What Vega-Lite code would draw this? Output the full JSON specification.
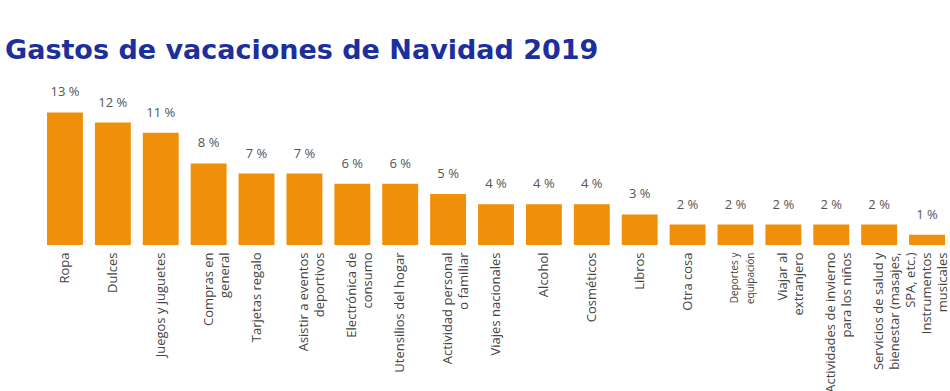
{
  "$schema": "https://vega.github.io/schema/vega-lite/v6.json",
  "width": 898,
  "height": 153,
  "autosize": {"type": "none"},
  "padding": {"left": 47, "top": 92, "right": 5, "bottom": 146},
  "background": "white",
  "title": {
    "text": "Gastos de vacaciones de Navidad 2019",
    "anchor": "start",
    "frame": "group",
    "orient": "top",
    "baseline": "alphabetic",
    "offset": 0,
    "dx": -42,
    "font": "DejaVu Sans",
    "fontSize": 27,
    "fontWeight": "bold",
    "color": "#1c2f9c"
  },
  "data": {
    "values": [
      {"cat": "Ropa", "pct": 13, "label": "13 %"},
      {"cat": "Dulces", "pct": 12, "label": "12 %"},
      {"cat": "Juegos y juguetes", "pct": 11, "label": "11 %"},
      {"cat": "Compras en|general", "pct": 8, "label": "8 %"},
      {"cat": "Tarjetas regalo", "pct": 7, "label": "7 %"},
      {"cat": "Asistir a eventos|deportivos", "pct": 7, "label": "7 %"},
      {"cat": "Electrónica de|consumo", "pct": 6, "label": "6 %"},
      {"cat": "Utensilios del hogar", "pct": 6, "label": "6 %"},
      {"cat": "Actividad personal|o familiar", "pct": 5, "label": "5 %"},
      {"cat": "Viajes nacionales", "pct": 4, "label": "4 %"},
      {"cat": "Alcohol", "pct": 4, "label": "4 %"},
      {"cat": "Cosméticos", "pct": 4, "label": "4 %"},
      {"cat": "Libros", "pct": 3, "label": "3 %"},
      {"cat": "Otra cosa", "pct": 2, "label": "2 %"},
      {"cat": "Deportes y|equipación", "pct": 2, "label": "2 %"},
      {"cat": "Viajar al|extranjero", "pct": 2, "label": "2 %"},
      {"cat": "Actividades de invierno|para los niños", "pct": 2, "label": "2 %"},
      {"cat": "Servicios de salud y|bienestar (masajes,|SPA, etc.)", "pct": 2, "label": "2 %"},
      {"cat": "Instrumentos|musicales", "pct": 1, "label": "1 %"}
    ]
  },
  "encoding": {
    "x": {
      "field": "cat",
      "type": "nominal",
      "sort": null,
      "scale": {"paddingInner": 0.25, "paddingOuter": 0},
      "axis": {
        "title": null,
        "domain": false,
        "ticks": false,
        "labelAngle": -90,
        "labelAlign": "right",
        "labelBaseline": "middle",
        "labelPadding": 7,
        "labelFont": "Open Sans",
        "labelFontSize": {"condition": {"test": "datum.value == 'Deportes y|equipación'", "value": 10}, "value": 13},
        "labelLineHeight": {"condition": {"test": "datum.value == 'Deportes y|equipación'", "value": 11}, "value": 16},
        "labelColor": "#444444",
        "labelLimit": 200,
        "labelExpr": "split(datum.value, '|')"
      }
    },
    "y": {
      "field": "pct",
      "type": "quantitative",
      "scale": {"domain": [0, 15]},
      "axis": null
    }
  },
  "layer": [
    {"mark": {"type": "bar", "color": "#f0900a"}},
    {
      "mark": {"type": "text", "baseline": "alphabetic", "dy": -16, "font": "Open Sans", "fontSize": 13, "color": "#555555"},
      "encoding": {"text": {"field": "label"}}
    }
  ],
  "config": {"view": {"stroke": null}}
}
